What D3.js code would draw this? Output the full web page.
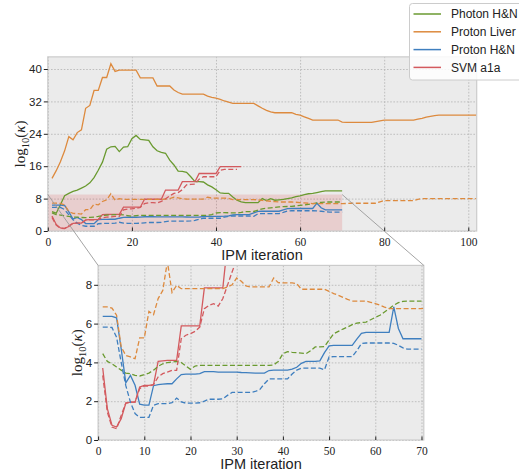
<!DOCTYPE html>
<html><head><meta charset="utf-8">
<script src="https://cdn.jsdelivr.net/npm/d3@7"></script>
<style>body{margin:0;background:#fff}</style>
</head><body>
<svg id="c" width="519" height="476"></svg>
<script>
// ---------------- data ----------------
const seriesNames = ["Photon H&N", "Proton Liver", "Proton H&N", "SVM a1a"];
const seriesColors = ["#6a9a30", "#dd8a3e", "#3f7fbf", "#d35a5e"];
const xTicksMain = [0, 20, 40, 60, 80, 100];
const yTicksMain = [0, 8, 16, 24, 32, 40];
const xTicksInset = [0, 10, 20, 30, 40, 50, 60, 70];
const yTicksInset = [0, 2, 4, 6, 8];

// values per IPM iteration, starting at iteration 1
const photonHN_solid = [4.8,4.4,6.5,8.7,9.3,9.8,10.1,10.6,11.1,11.9,
  13.2,15.0,17.0,20.2,20.8,20.9,19.6,20.7,20.8,22.8,
  23.6,22.6,22.5,22.4,20.8,19.8,19.4,19.2,17.5,16.3,
  14.8,14.7,14.5,13.4,12.2,12.2,12.1,11.4,10.9,10.2,
  9.4,9.3,9.3,8.4,7.6,7.2,7.0,7.0,7.0,7.0,
  8.0,7.5,8.0,7.6,7.7,7.8,8.0,8.2,8.5,8.7,
  9.0,9.2,9.3,9.5,9.7,9.9,9.9,9.9,9.9,9.9];
const photonHN_dashed = [4.45,4.05,3.93,3.76,3.6,3.45,3.42,3.33,3.3,3.37,
  3.45,3.6,3.8,3.93,3.99,4.02,4.05,3.99,3.81,3.64,
  3.81,3.85,3.85,3.85,3.85,3.85,3.85,3.85,3.85,3.85,
  3.85,3.85,3.85,3.85,3.85,3.85,3.85,3.87,4.05,4.45,
  4.55,4.52,4.5,4.48,4.45,4.6,4.8,4.8,4.82,5.15,
  5.48,5.6,5.72,5.82,5.95,6.03,6.05,6.08,6.2,6.32,
  6.43,6.6,6.77,6.95,7.08,7.15,7.16,7.16,7.16,7.16];
const protonLiver_solid = [13.0,14.9,17.1,19.8,23.3,22.5,24.3,25.0,30.3,31.0,
  34.7,34.7,37.9,37.9,41.3,39.4,39.7,39.7,39.7,39.7,
  39.7,37.8,37.8,37.8,37.8,35.8,35.8,35.8,35.8,34.8,
  34.2,33.8,33.8,33.8,33.8,33.8,33.8,33.3,33.0,32.8,
  32.5,32.1,31.8,31.5,31.5,31.5,31.5,31.5,31.5,30.9,
  30.3,29.8,29.4,29.2,29.2,29.2,29.2,29.2,28.8,28.6,
  28.2,27.8,27.4,27.4,27.4,27.4,27.4,27.4,27.4,26.9,
  26.8,26.8,26.8,26.8,26.8,26.8,26.8,27.0,27.2,27.4,
  27.4,27.4,27.4,27.4,27.4,27.4,27.4,27.6,27.8,28.1,
  28.3,28.5,28.6,28.6,28.6,28.6,28.6,28.6,28.6,28.6,
  28.6,28.6];
const protonLiver_dashed = [6.86,6.86,6.8,6.43,4.8,4.36,4.28,4.19,5.26,5.26,
  6.63,6.46,7.29,7.71,9.2,7.6,7.97,7.8,7.8,7.8,
  7.8,7.8,7.8,7.8,7.8,7.8,7.8,7.89,8.0,8.35,
  8.18,7.94,7.89,7.89,7.89,7.89,7.89,8.35,8.11,8.1,
  8.1,8.1,8.06,7.77,7.77,7.77,7.77,7.77,7.77,7.66,
  7.55,7.46,7.35,7.25,7.16,7.16,7.16,7.16,7.1,7.03,
  6.95,6.85,6.77,6.77,6.77,6.77,6.77,6.77,6.77,6.77,
  6.8,6.85,6.85,6.85,6.85,6.85,6.85,6.85,7.2,7.5,
  7.5,7.5,7.5,7.5,7.5,7.5,7.5,7.8,8.0,8.0,
  8.0,8.0,8.0,8.0,8.0,8.0,8.0,8.0,8.0,8.0,
  8.0,8.0];
const protonHN_solid = [6.37,6.37,6.37,6.3,4.7,2.95,3.33,2.82,1.85,1.8,
  1.8,2.8,2.85,2.88,2.9,2.9,3.15,3.37,3.4,3.4,
  3.4,3.42,3.52,3.52,3.52,3.5,3.5,3.5,3.5,3.5,
  3.48,3.47,3.46,3.45,3.45,3.45,3.58,3.6,3.6,3.6,
  3.6,3.65,3.75,3.95,4.05,4.05,4.05,4.08,4.5,4.85,
  4.88,4.88,4.88,4.88,4.88,5.2,5.5,5.55,5.55,5.55,
  5.55,5.55,5.55,6.86,5.75,5.22,5.22,5.22,5.22,5.22];
const protonHN_dashed = [5.82,5.82,5.8,5.3,4.0,2.8,1.95,1.36,1.17,1.17,
  1.17,1.79,1.87,1.87,1.87,1.92,2.16,1.96,1.9,1.9,
  1.9,1.92,2.0,2.1,2.1,2.1,2.12,2.3,2.45,2.45,
  2.45,2.45,2.45,2.5,2.6,2.9,3.15,3.15,3.15,3.15,
  3.15,3.4,3.6,3.7,3.7,3.7,3.7,3.7,3.62,4.28,
  4.3,4.3,4.3,4.3,4.3,4.6,4.97,5.0,5.0,5.0,
  5.0,5.0,5.0,4.98,4.88,4.75,4.68,4.68,4.68,4.68];
const svm_solid = [3.71,1.62,0.76,0.67,1.1,1.9,1.95,1.95,2.73,2.82,
  2.82,2.85,4.05,4.08,4.1,4.1,4.1,5.88,5.88,5.88,
  5.88,5.88,7.84,7.84,7.84,7.84,7.84,10.1,10.1,10.1,
  10.1,12.2,12.2,12.2,12.2,14.2,14.2,14.2,14.2,14.2,
  15.9,15.9,15.9,15.9,15.9,15.9];
const svm_dashed = [3.33,1.44,0.67,0.58,1.27,1.9,1.95,1.95,2.65,2.78,
  2.78,2.85,3.25,3.42,3.5,3.59,3.59,5.22,5.4,5.48,
  5.6,5.82,6.77,6.94,7.03,6.9,7.29,7.97,8.66,9.3,
  9.5,10.2,11.4,11.5,11.6,12.8,13.4,13.4,13.4,13.4,
  15.0,15.2,15.2,15.2,15.2];

// ---------------- build ----------------
const lineDefs = [
  {vals: photonHN_solid, c: 0, dash: false, inset: false},
  {vals: protonLiver_solid, c: 1, dash: false, inset: false},
  {vals: protonHN_solid, c: 2, dash: false, inset: true},
  {vals: svm_solid, c: 3, dash: false, inset: true},
  {vals: photonHN_dashed, c: 0, dash: true, inset: true},
  {vals: protonLiver_dashed, c: 1, dash: true, inset: true},
  {vals: protonHN_dashed, c: 2, dash: true, inset: true},
  {vals: svm_dashed, c: 3, dash: true, inset: true},
];
const svg = d3.select("#c");
const BG = "#ebebeb", SPINE = "#cbcbcb", GRID = "#b3b3b3";
const sansF = "'Liberation Sans', Arial, sans-serif";
const serifF = "'Liberation Serif', 'DejaVu Serif', serif";

function panel(id, x0, x1, y0, y1, xdom, ydom, xt, yt, showLines, rectSpec) {
  const x = d3.scaleLinear().domain(xdom).range([x0, x1]);
  const y = d3.scaleLinear().domain(ydom).range([y1, y0]);
  const g = svg.append("g");
  g.append("rect").attr("x", x0).attr("y", y0).attr("width", x1 - x0).attr("height", y1 - y0).attr("fill", BG);
  svg.append("clipPath").attr("id", id).append("rect")
    .attr("x", x0).attr("y", y0).attr("width", x1 - x0).attr("height", y1 - y0);
  const gx = g.append("g").attr("transform", `translate(0,${y1})`)
    .call(d3.axisBottom(x).tickValues(xt).tickSize(-(y1 - y0)).tickFormat(""));
  const gy = g.append("g").attr("transform", `translate(${x0},0)`)
    .call(d3.axisLeft(y).tickValues(yt).tickSize(-(x1 - x0)).tickFormat(""));
  [gx, gy].forEach(a => {
    a.select(".domain").remove();
    a.selectAll("line").attr("stroke", GRID).attr("stroke-width", 0.8).attr("stroke-dasharray", "1.6,1.6");
  });
  const plot = g.append("g").attr("clip-path", `url(#${id})`);
  if (rectSpec) {
    plot.append("rect").attr("x", x(rectSpec[0])).attr("y", y(rectSpec[3]))
      .attr("width", x(rectSpec[1]) - x(rectSpec[0])).attr("height", y(rectSpec[2]) - y(rectSpec[3]))
      .attr("fill", "#d62728").attr("fill-opacity", 0.15);
  }
  const ln = d3.line().x((d, i) => x(i + 1)).y(d => y(d));
  lineDefs.filter(showLines).forEach(L => {
    plot.append("path").attr("d", ln(L.vals)).attr("fill", "none")
      .attr("stroke", seriesColors[L.c]).attr("stroke-width", 1.3)
      .attr("stroke-dasharray", L.dash ? "5,2.5" : null);
  });
  g.append("rect").attr("x", x0).attr("y", y0).attr("width", x1 - x0).attr("height", y1 - y0)
    .attr("fill", "none").attr("stroke", SPINE).attr("stroke-width", 1.2);
  const ax = g.append("g").attr("transform", `translate(0,${y1})`)
    .call(d3.axisBottom(x).tickValues(xt).tickSizeInner(-3.5).tickSizeOuter(0).tickPadding(7));
  ax.select(".domain").remove();
  ax.selectAll("line").attr("stroke", "#222").attr("stroke-width", 1);
  ax.selectAll("text").attr("font-family", serifF).attr("font-size", 11.5).attr("fill", "#222");
  const ay = g.append("g").attr("transform", `translate(${x0},0)`)
    .call(d3.axisLeft(y).tickValues(yt).tickSizeInner(4).tickSizeOuter(0).tickPadding(2));
  ay.select(".domain").remove();
  ay.selectAll("line").attr("stroke", "#222").attr("stroke-width", 1);
  ay.selectAll("text").attr("font-family", sansF).attr("font-size", 11.5).attr("fill", "#222");
  return {x, y};
}

const mainP = panel("clipTop", 47.8, 476.7, 56.85, 231, [0, 102], [0, 43], xTicksMain, yTicksMain, L => true, [0, 70, 0, 9]);
const insP = panel("clipIns", 98.1, 423.8, 265.4, 440, [0, 70.5], [0, 9], xTicksInset, yTicksInset, L => L.inset, null);

// connector lines
[[0, 9], [70, 9]].forEach((p, k) => {
  svg.append("line")
    .attr("x1", mainP.x(p[0])).attr("y1", mainP.y(p[1]))
    .attr("x2", k === 0 ? insP.x(0) : insP.x(70.5)).attr("y2", insP.y(9))
    .attr("stroke", "#9a9a9a").attr("stroke-width", 0.9);
});

function xlabel(xc, yb) {
  svg.append("text").attr("x", xc).attr("y", yb).attr("text-anchor", "middle")
    .attr("font-family", sansF).attr("font-size", 14.5).attr("fill", "#222").text("IPM iteration");
}
xlabel(262, 260);
xlabel(261, 469);
function ylabel(xb, yc) {
  const t = svg.append("text").attr("transform", `translate(${xb},${yc}) rotate(-90)`)
    .attr("text-anchor", "middle").attr("font-family", serifF).attr("font-size", 15).attr("fill", "#222");
  t.append("tspan").text("log");
  t.append("tspan").attr("font-size", 10.5).attr("dy", 4).text("10");
  t.append("tspan").attr("dy", -4).text("(");
  t.append("tspan").attr("font-style", "italic").text("κ");
  t.append("tspan").text(")");
}
ylabel(25, 144);
ylabel(82, 352.7);

const lg = svg.append("g");
lg.append("rect").attr("x", 409.5).attr("y", 3.5).attr("width", 130).attr("height", 76.5).attr("rx", 3)
  .attr("fill", "#fff").attr("fill-opacity", 0.85).attr("stroke", "#cccccc").attr("stroke-width", 1);
seriesNames.forEach((n, i) => {
  const yy = 14 + i * 17.8;
  lg.append("line").attr("x1", 413.5).attr("x2", 441).attr("y1", yy).attr("y2", yy)
    .attr("stroke", seriesColors[i]).attr("stroke-width", 1.5);
  lg.append("text").attr("x", 451).attr("y", yy + 4.3).attr("font-family", sansF).attr("font-size", 12)
    .attr("fill", "#222").text(n);
});
</script>
</body></html>
